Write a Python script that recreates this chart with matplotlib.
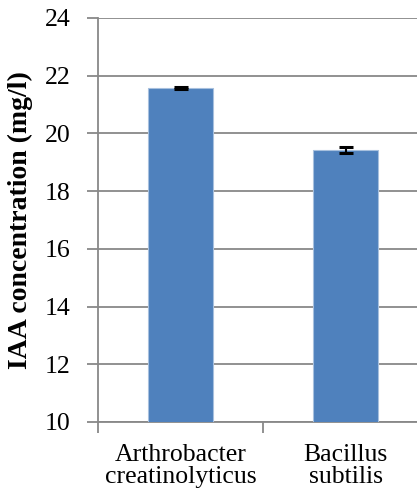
import matplotlib.pyplot as plt
import numpy as np

# data
categories = ["Arthrobacter\ncreatinolyticus", "Bacillus\nsubtilis"]
values = [21.58, 19.43]
errors = [0.03, 0.11]
y_ticks = [10, 12, 14, 16, 18, 20, 22, 24]

plt.rcParams['font.family'] = ['Liberation Serif', 'DejaVu Serif']

fig = plt.figure(figsize=(4.17, 4.97), dpi=100)
ax = fig.add_axes([0.235, 0.151, 0.792, 0.813])

x = np.arange(len(categories))
ax.bar(x, values, width=0.39, color="#4f81bd", edgecolor="#a7c0de", linewidth=0.8,
       yerr=errors, capsize=5, error_kw=dict(ecolor="black", elinewidth=1.5, capthick=2.2),
       zorder=3)

ax.set_xlim(-0.5, len(categories) - 0.5)
ax.set_ylim(10, 24)
ax.set_yticks(y_ticks)
ax.tick_params(axis='y', labelsize=18.5, length=8, width=1.3, color="#888888", pad=12)
ax.set_xticks(x)
ax.set_xticklabels(categories, linespacing=1.0)
ax.tick_params(axis='x', which='major', length=0, labelsize=18.5, pad=16)
ax.set_xticks([-0.5, 0.5, 1.5], minor=True)
ax.tick_params(axis='x', which='minor', length=8, width=1.3, color="#888888")

ax.grid(axis='y', color="#888888", linewidth=1.3, zorder=0)
ax.set_axisbelow(True)
for s in ['top', 'right']:
    ax.spines[s].set_visible(False)
for s in ['left', 'bottom']:
    ax.spines[s].set_color("#888888")
    ax.spines[s].set_linewidth(1.3)

ax.set_ylabel("IAA concentration (mg/l)", fontsize=20, fontweight='bold', labelpad=8)

fig.savefig("out.png", dpi=100)
